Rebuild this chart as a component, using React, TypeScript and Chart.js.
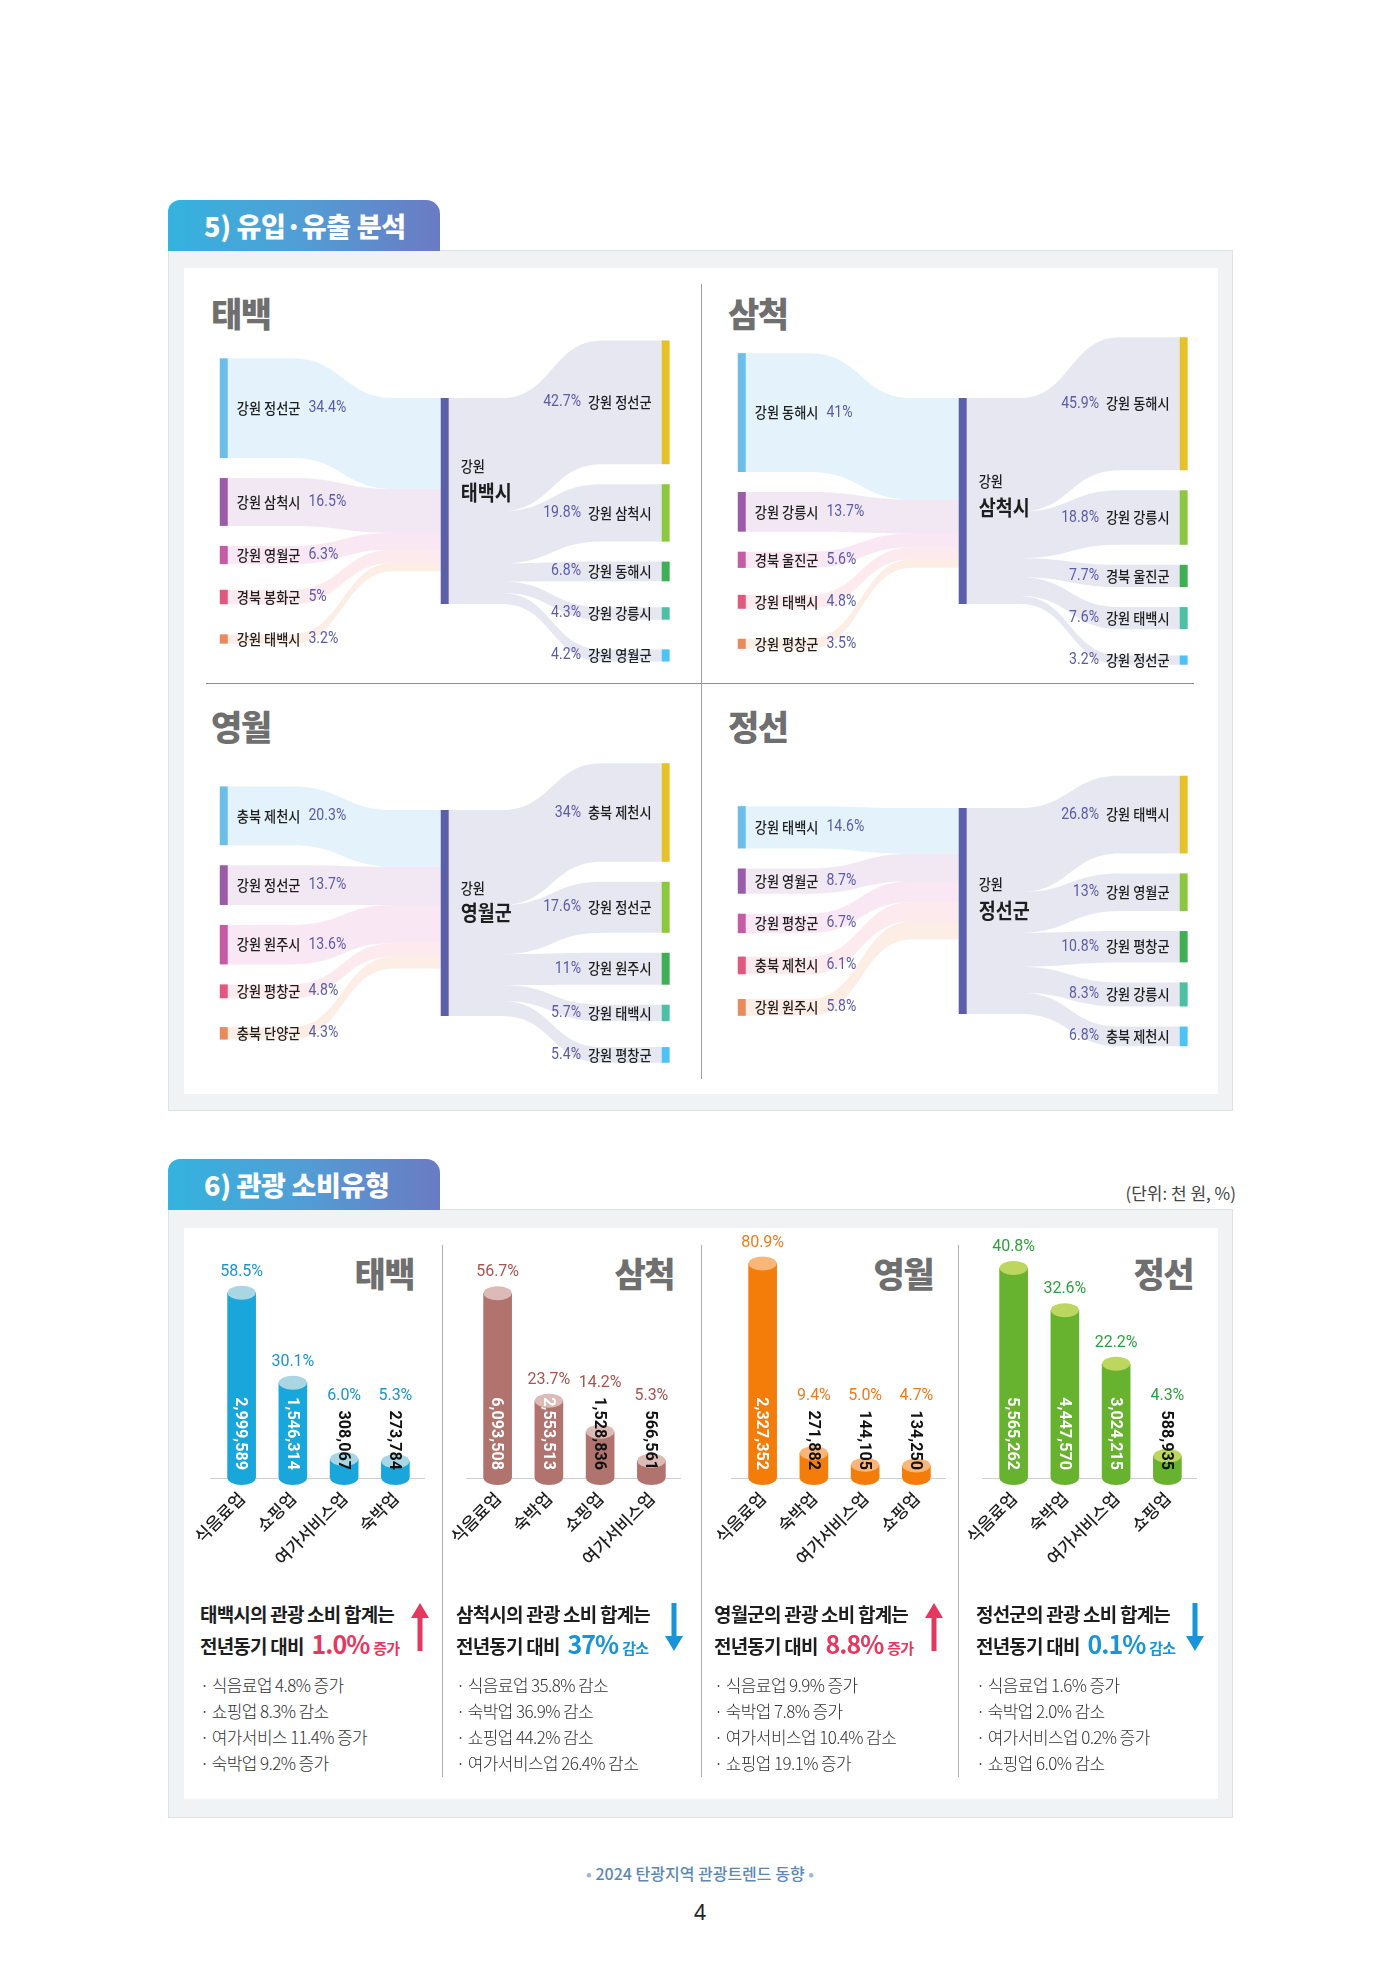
import React, { useEffect, useRef } from 'react';
import { Chart, registerables } from 'chart.js';

Chart.register(...registerables);

const KR = '"Noto Sans CJK KR", "Noto Sans", sans-serif';
const NUM = 'Roboto, "Noto Sans CJK KR", sans-serif';

// ===================== 5) 유입·유출 분석 =====================
const REGION_TITLES = ['태백', '삼척', '영월', '정선'];
const HUB_PROVINCE = '강원';
const HUB_NAMES = ['태백시', '삼척시', '영월군', '정선군'];

const INFLOW_LABELS = [
  ['강원 정선군', '강원 삼척시', '강원 영월군', '경북 봉화군', '강원 태백시'],
  ['강원 동해시', '강원 강릉시', '경북 울진군', '강원 태백시', '강원 평창군'],
  ['충북 제천시', '강원 정선군', '강원 원주시', '강원 평창군', '충북 단양군'],
  ['강원 태백시', '강원 영월군', '강원 평창군', '충북 제천시', '강원 원주시'],
];
const INFLOW_SHARES = [
  [34.4, 16.5, 6.3, 5, 3.2],
  [41, 13.7, 5.6, 4.8, 3.5],
  [20.3, 13.7, 13.6, 4.8, 4.3],
  [14.6, 8.7, 6.7, 6.1, 5.8],
];
const OUTFLOW_LABELS = [
  ['강원 정선군', '강원 삼척시', '강원 동해시', '강원 강릉시', '강원 영월군'],
  ['강원 동해시', '강원 강릉시', '경북 울진군', '강원 태백시', '강원 정선군'],
  ['충북 제천시', '강원 정선군', '강원 원주시', '강원 태백시', '강원 평창군'],
  ['강원 태백시', '강원 영월군', '강원 평창군', '강원 강릉시', '충북 제천시'],
];
const OUTFLOW_SHARES = [
  [42.7, 19.8, 6.8, 4.3, 4.2],
  [45.9, 18.8, 7.7, 7.6, 3.2],
  [34, 17.6, 11, 5.7, 5.4],
  [26.8, 13, 10.8, 8.3, 6.8],
];

// ===================== 6) 관광 소비유형 =====================
const SPEND_CATEGORIES = [
  ['식음료업', '쇼핑업', '여가서비스업', '숙박업'],
  ['식음료업', '숙박업', '쇼핑업', '여가서비스업'],
  ['식음료업', '숙박업', '여가서비스업', '쇼핑업'],
  ['식음료업', '숙박업', '여가서비스업', '쇼핑업'],
];
const SPEND_SHARES = [
  [58.5, 30.1, 6.0, 5.3],
  [56.7, 23.7, 14.2, 5.3],
  [80.9, 9.4, 5.0, 4.7],
  [40.8, 32.6, 22.2, 4.3],
];
const SPEND_AMOUNTS = [
  [2999589, 1546314, 308067, 273784],
  [6093508, 2553513, 1528836, 566561],
  [2327352, 271882, 144105, 134250],
  [5565262, 4447570, 3024215, 588935],
];
const SPEND_AXIS_MAX = [72, 70, 86, 44.3];

const SUMMARY_SUBJECTS = ['태백시', '삼척시', '영월군', '정선군'];
const SUMMARY_CHANGE = ['1.0%', '37%', '8.8%', '0.1%'];
const SUMMARY_DIRECTION = ['증가', '감소', '증가', '감소'];
const SUMMARY_BULLETS = [
  ['식음료업 4.8% 증가', '쇼핑업 8.3% 감소', '여가서비스 11.4% 증가', '숙박업 9.2% 증가'],
  ['식음료업 35.8% 감소', '숙박업 36.9% 감소', '쇼핑업 44.2% 감소', '여가서비스업 26.4% 감소'],
  ['식음료업 9.9% 증가', '숙박업 7.8% 증가', '여가서비스업 10.4% 감소', '쇼핑업 19.1% 증가'],
  ['식음료업 1.6% 증가', '숙박업 2.0% 감소', '여가서비스업 0.2% 증가', '쇼핑업 6.0% 감소'],
];

// ===================== styles / layout =====================
const IN_NODE_COLORS = ['#6cbde8', '#9a5ca8', '#c65ba5', '#e2577e', '#e98a5c'];
const IN_RIBBON_COLORS = [
  'rgba(108,189,232,0.18)',
  'rgba(170,100,180,0.15)',
  'rgba(214,90,170,0.14)',
  'rgba(230,90,130,0.13)',
  'rgba(240,150,100,0.17)',
];
const OUT_NODE_COLORS = ['#e5c22b', '#8dc63f', '#3fae55', '#4dbfa4', '#4ec3f3'];
const OUT_RIBBON_COLOR = 'rgba(91,94,166,0.15)';
const HUB_COLOR = '#5b5ea8';
const PCT_COLOR = '#5a5ca8';

const SK_QUADS = [
  { left: 184, mid: 501, titleX: 211, titleY: 313 },
  { left: 702, mid: 501, titleX: 728, titleY: 313 },
  { left: 184, mid: 913, titleX: 211, titleY: 726 },
  { left: 702, mid: 911, titleX: 728, titleY: 726 },
];
const SK_W = 517;
const SK_H = 400;
const SK_X_MIN = -0.18;
const SK_X_MAX = 2.16;
const SK_Y_HALF = 69;
const SK_NODE_W = 8;
const SK_GAP = 20;
const SK_MIN_SPACING = 42;
const SK_HUB_PX = 206;
const SK_HUB_LABEL_OFFSETS = [
  [-35, -9],
  [-20, 6],
  [-25, -1],
  [-27, -1],
];

const BAR_COLORS = ['#19a6da', '#b0736e', '#f47d0a', '#67b22f'];
const BAR_TOP_COLORS = ['#a9d6e3', '#dcbab6', '#f9b679', '#bcd65f'];
const BAR_LABEL_COLORS = ['#1c93c9', '#a5544f', '#ee7a1c', '#2e9e3e'];
const BAR_AREA_LEFT = [215.5, 471.5, 737, 987.5];
const BAR_TITLE_RIGHT = [414, 674, 933, 1193];
const BAR_AREA_W = 205;
const BAR_AREA_TOP = 1250;
const BAR_BASE = 1478;
const BAR_PAD_L = 60;
const BAR_PAD_R = 30;
const BAR_PAD_T = 24;
const BAR_X_AXIS_H = 100;

const SUMMARY_X = [200, 456, 714, 976];
const ARROW_X = [420, 674, 934, 1195];
const UP_COLOR = '#e6375f';
const DOWN_COLOR = '#1a94d6';

function fmtPct(v: number) {
  return `${v}%`;
}

function drawScaledText(ctx: CanvasRenderingContext2D, text: string, x: number, y: number, align: CanvasTextAlign, sx: number) {
  ctx.save();
  ctx.translate(x, y);
  ctx.scale(sx, 1);
  ctx.textAlign = align;
  ctx.textBaseline = 'middle';
  ctx.fillText(text, 0, 0);
  ctx.restore();
  return ctx.measureText(text).width * sx;
}

function stackColumn(vals: number[], gapV: number, minV: number) {
  const tops: number[] = [];
  let prevBottom = 0;
  let prevCenter = 0;
  vals.forEach((v, i) => {
    let t = 0;
    if (i > 0) t = Math.max(prevBottom + gapV, prevCenter + minV - v / 2);
    tops.push(t);
    prevBottom = t + v;
    prevCenter = t + v / 2;
  });
  const extent = prevBottom;
  return tops.map((t) => t - extent / 2);
}

function ribbon(
  ctx: CanvasRenderingContext2D,
  xa: number, ya1: number, ya2: number,
  xb: number, yb1: number, yb2: number,
  f1: number, f2: number, color: string
) {
  const xs = xa + (xb - xa) * f1;
  const xe = xa + (xb - xa) * f2;
  const xm = (xs + xe) / 2;
  ctx.beginPath();
  ctx.moveTo(xa, ya1);
  ctx.lineTo(xs, ya1);
  ctx.bezierCurveTo(xm, ya1, xm, yb1, xe, yb1);
  ctx.lineTo(xb, yb1);
  ctx.lineTo(xb, yb2);
  ctx.lineTo(xe, yb2);
  ctx.bezierCurveTo(xm, yb2, xm, ya2, xs, ya2);
  ctx.lineTo(xa, ya2);
  ctx.closePath();
  ctx.fillStyle = color;
  ctx.fill();
}

function Sankey({ idx }: { idx: number }) {
  const ref = useRef<HTMLCanvasElement>(null);
  const q = SK_QUADS[idx];
  useEffect(() => {
    const inVals = INFLOW_SHARES[idx];
    const outVals = OUTFLOW_SHARES[idx];
    const inLabels = INFLOW_LABELS[idx];
    const outLabels = OUTFLOW_LABELS[idx];
    const plugin = {
      id: 'sankeyDraw',
      afterDraw(chart: any) {
        const ctx: CanvasRenderingContext2D = chart.ctx;
        const xs = chart.scales.x;
        const ys = chart.scales.y;
        const py = (v: number) => ys.getPixelForValue(v);
        const k = Math.abs(py(1) - py(0));
        const gapV = SK_GAP / k;
        const minV = SK_MIN_SPACING / k;
        const hubV = SK_HUB_PX / k;
        const inTops = stackColumn(inVals, gapV, minV);
        const outTops = stackColumn(outVals, gapV, minV);
        const xL = xs.getPixelForValue(0);
        const xH = xs.getPixelForValue(1);
        const xR = xs.getPixelForValue(2);
        const hw = SK_NODE_W / 2;
        const sumIn = inVals.reduce((a, b) => a + b, 0);
        const sumOut = outVals.reduce((a, b) => a + b, 0);
        const s = hubV / Math.max(sumIn, sumOut);
        const hubTop = -hubV / 2;

        ctx.save();
        let acc = hubTop;
        const inHub: number[] = [];
        inVals.forEach((v) => { inHub.push(acc); acc += v * s; });
        for (let i = inVals.length - 1; i >= 0; i--) {
          const v = inVals[i];
          ribbon(ctx, xL + hw, py(inTops[i]), py(inTops[i] + v), xH - hw, py(inHub[i]), py(inHub[i] + v * s), 0.3, 0.78, IN_RIBBON_COLORS[i]);
        }
        acc = hubTop;
        outVals.forEach((v, i) => {
          ribbon(ctx, xH + hw, py(acc), py(acc + v * s), xR - hw, py(outTops[i]), py(outTops[i] + v), 0.25, 0.72, OUT_RIBBON_COLOR);
          acc += v * s;
        });
        inVals.forEach((v, i) => {
          ctx.fillStyle = IN_NODE_COLORS[i];
          ctx.fillRect(xL - hw, py(inTops[i]), SK_NODE_W, py(inTops[i] + v) - py(inTops[i]));
        });
        outVals.forEach((v, i) => {
          ctx.fillStyle = OUT_NODE_COLORS[i];
          ctx.fillRect(xR - hw, py(outTops[i]), SK_NODE_W, py(outTops[i] + v) - py(outTops[i]));
        });
        ctx.fillStyle = HUB_COLOR;
        ctx.fillRect(xH - hw, py(hubTop), SK_NODE_W, py(-hubTop) - py(hubTop));

        inVals.forEach((v, i) => {
          const yc = py(inTops[i] + v / 2);
          ctx.fillStyle = '#1e1e1e';
          ctx.font = `500 15px ${KR}`;
          const w = drawScaledText(ctx, inLabels[i], xL + hw + 9, yc, 'left', 0.88);
          ctx.fillStyle = PCT_COLOR;
          ctx.font = `16px ${NUM}`;
          drawScaledText(ctx, fmtPct(v), xL + hw + 9 + w + 8, yc, 'left', 0.88);
        });
        outVals.forEach((v, i) => {
          const yc = py(outTops[i] + v / 2);
          ctx.fillStyle = '#1e1e1e';
          ctx.font = `500 15px ${KR}`;
          const w = drawScaledText(ctx, outLabels[i], xR - hw - 10, yc, 'right', 0.88);
          ctx.fillStyle = PCT_COLOR;
          ctx.font = `16px ${NUM}`;
          drawScaledText(ctx, fmtPct(v), xR - hw - 10 - w - 7, yc, 'right', 0.88);
        });
        const hubMid = py(0);
        const off = SK_HUB_LABEL_OFFSETS[idx];
        ctx.fillStyle = '#1e1e1e';
        ctx.font = `500 15px ${KR}`;
        drawScaledText(ctx, HUB_PROVINCE, xH + hw + 12, hubMid + off[0], 'left', 0.88);
        ctx.font = `bold 21px ${KR}`;
        drawScaledText(ctx, HUB_NAMES[idx], xH + hw + 12, hubMid + off[1], 'left', 0.88);
        ctx.restore();
      },
    };
    const chart = new Chart(ref.current as HTMLCanvasElement, {
      type: 'scatter',
      data: { datasets: [{ data: [] }] },
      options: {
        animation: false,
        responsive: false,
        maintainAspectRatio: false,
        layout: { padding: 0 },
        plugins: { legend: { display: false }, tooltip: { enabled: false } },
        scales: {
          x: { type: 'linear', display: false, min: SK_X_MIN, max: SK_X_MAX },
          y: { type: 'linear', display: false, min: -SK_Y_HALF, max: SK_Y_HALF, reverse: true },
        },
      },
      plugins: [plugin],
    } as any);
    return () => chart.destroy();
  }, [idx]);
  return (
    <canvas
      ref={ref}
      width={SK_W}
      height={SK_H}
      style={{ position: 'absolute', left: q.left, top: q.mid - SK_H / 2, width: SK_W, height: SK_H, display: 'block' }}
    />
  );
}

function BarPanel({ idx }: { idx: number }) {
  const ref = useRef<HTMLCanvasElement>(null);
  const areaH = BAR_BASE - BAR_AREA_TOP;
  const cw = BAR_PAD_L + BAR_AREA_W + BAR_PAD_R;
  const ch = BAR_PAD_T + areaH + BAR_X_AXIS_H;
  useEffect(() => {
    const color = BAR_COLORS[idx];
    const plugin = {
      id: 'cylinders',
      beforeDatasetsDraw(chart: any) {
        const ctx: CanvasRenderingContext2D = chart.ctx;
        const { left, right, bottom } = chart.chartArea;
        ctx.save();
        ctx.strokeStyle = '#cfcfcf';
        ctx.lineWidth = 1;
        ctx.beginPath();
        ctx.moveTo(left - 6, bottom + 0.5);
        ctx.lineTo(right + 4, bottom + 0.5);
        ctx.stroke();
        ctx.restore();
      },
      afterDatasetsDraw(chart: any) {
        const ctx: CanvasRenderingContext2D = chart.ctx;
        const meta = chart.getDatasetMeta(0);
        ctx.save();
        meta.data.forEach((bar: any, i: number) => {
          const p = bar.getProps(['x', 'y', 'base', 'width'], true);
          const rx = p.width / 2;
          const ry = 7;
          ctx.fillStyle = color;
          ctx.beginPath();
          ctx.ellipse(p.x, p.base, rx, ry, 0, 0, Math.PI);
          ctx.fill();
          ctx.fillStyle = BAR_TOP_COLORS[idx];
          ctx.beginPath();
          ctx.ellipse(p.x, p.y, rx, ry, 0, 0, Math.PI * 2);
          ctx.fill();

          const str = SPEND_AMOUNTS[idx][i].toLocaleString('en-US');
          ctx.font = `bold 17px ${NUM}`;
          const tw = ctx.measureText(str).width * 0.95;
          const textEnd = p.base - 8;
          const textStart = textEnd - tw;
          const inside = p.y - ry < textStart - 2;
          ctx.save();
          ctx.translate(p.x, textEnd);
          ctx.rotate(Math.PI / 2);
          ctx.scale(0.95, 1);
          ctx.textAlign = 'right';
          ctx.textBaseline = 'middle';
          ctx.fillStyle = inside ? '#ffffff' : '#111111';
          ctx.fillText(str, 0, 1);
          ctx.restore();

          const labBottom = Math.min(p.y - ry, inside ? Infinity : textStart) - 6;
          ctx.font = `16px ${NUM}`;
          ctx.fillStyle = BAR_LABEL_COLORS[idx];
          ctx.textAlign = 'center';
          ctx.textBaseline = 'bottom';
          ctx.fillText(`${SPEND_SHARES[idx][i].toFixed(1)}%`, p.x, labBottom);
        });
        ctx.restore();
      },
    };
    const chart = new Chart(ref.current as HTMLCanvasElement, {
      type: 'bar',
      data: {
        labels: SPEND_CATEGORIES[idx],
        datasets: [
          {
            data: SPEND_SHARES[idx],
            backgroundColor: color,
            borderWidth: 0,
            barThickness: 28,
          },
        ],
      },
      options: {
        animation: false,
        responsive: false,
        maintainAspectRatio: false,
        layout: { padding: { left: BAR_PAD_L, right: BAR_PAD_R, top: BAR_PAD_T, bottom: 0 } },
        plugins: { legend: { display: false }, tooltip: { enabled: false } },
        scales: {
          x: {
            grid: { display: false, drawTicks: false },
            border: { display: false },
            ticks: {
              color: '#1e1e1e',
              font: { family: KR, size: 17, weight: '500' },
              minRotation: 45,
              maxRotation: 45,
              padding: 10,
            },
            afterFit: (s: any) => {
              s.height = BAR_X_AXIS_H;
            },
          },
          y: { display: false, min: 0, max: SPEND_AXIS_MAX[idx] },
        },
      },
      plugins: [plugin],
    } as any);
    return () => chart.destroy();
  }, [idx]);
  return (
    <canvas
      ref={ref}
      width={cw}
      height={ch}
      style={{
        position: 'absolute',
        left: BAR_AREA_LEFT[idx] - BAR_PAD_L,
        top: BAR_AREA_TOP - BAR_PAD_T,
        width: cw,
        height: ch,
        display: 'block',
      }}
    />
  );
}

function SectionTab({ top, text }: { top: number; text: string }) {
  return (
    <div
      style={{
        position: 'absolute',
        left: 168,
        top,
        width: 272,
        height: 51,
        borderRadius: '12px 14px 0 0',
        background: 'linear-gradient(90deg, #33b3de 0%, #4fa0d6 45%, #6b7bc3 100%)',
        color: '#fff',
        fontSize: 27,
        fontWeight: 900,
        lineHeight: '51px',
        paddingLeft: 36,
        boxSizing: 'border-box',
        letterSpacing: -0.3,
        whiteSpace: 'nowrap',
      }}
    >
      {text}
    </div>
  );
}

function Box({ top, height, innerTop, innerHeight }: { top: number; height: number; innerTop: number; innerHeight: number }) {
  return (
    <>
      <div
        style={{
          position: 'absolute',
          left: 168,
          top,
          width: 1065,
          height,
          background: '#f1f2f4',
          border: '1px solid #dfe1e4',
          boxSizing: 'border-box',
        }}
      />
      <div style={{ position: 'absolute', left: 184, top: innerTop, width: 1034, height: innerHeight, background: '#fff' }} />
    </>
  );
}

function Arrow({ cx, up }: { cx: number; up: boolean }) {
  const color = up ? UP_COLOR : DOWN_COLOR;
  return (
    <svg width={18} height={48} style={{ position: 'absolute', left: cx - 9, top: 1603 }}>
      {up ? (
        <>
          <polygon points="0,15 9,0 18,15" fill={color} />
          <rect x={6.5} y={13} width={5} height={35} fill={color} />
        </>
      ) : (
        <>
          <polygon points="0,33 9,48 18,33" fill={color} />
          <rect x={6.5} y={0} width={5} height={35} fill={color} />
        </>
      )}
    </svg>
  );
}

const titleStyle = {
  position: 'absolute' as const,
  lineHeight: '46px',
  fontSize: 34,
  fontWeight: 900,
  color: '#6f6f6f',
  letterSpacing: -1.5,
  whiteSpace: 'nowrap' as const,
};

export default function App() {
  useEffect(() => {
    document.body.style.margin = '0';
  }, []);
  return (
    <div
      style={{
        position: 'absolute',
        left: 0,
        top: 0,
        width: 1400,
        height: 1980,
        background: '#fff',
        fontFamily: KR,
        overflow: 'hidden',
      }}
    >
      {/* ===== section 5 ===== */}
      <Box top={250} height={861} innerTop={268} innerHeight={826} />
      <SectionTab top={200} text="5) 유입·유출 분석" />
      <div style={{ position: 'absolute', left: 701, top: 284, width: 1, height: 795, background: '#a0a0a0' }} />
      <div style={{ position: 'absolute', left: 206, top: 683, width: 988, height: 1, background: '#8f8f8f' }} />
      {SK_QUADS.map((q, i) => (
        <div key={`t${i}`} style={{ ...titleStyle, left: q.titleX, top: q.titleY - 23 }}>
          {REGION_TITLES[i]}
        </div>
      ))}
      {SK_QUADS.map((_, i) => (
        <Sankey key={`s${i}`} idx={i} />
      ))}

      {/* ===== section 6 ===== */}
      <Box top={1209} height={609} innerTop={1228} innerHeight={571} />
      <SectionTab top={1159} text="6) 관광 소비유형" />
      <div
        style={{
          position: 'absolute',
          left: 1036,
          width: 200,
          top: 1180,
          lineHeight: '26px',
          fontSize: 17,
          color: '#444',
          textAlign: 'right',
          whiteSpace: 'nowrap',
        }}
      >
        (단위: 천 원, %)
      </div>
      {[442, 701, 958].map((x) => (
        <div key={`d${x}`} style={{ position: 'absolute', left: x, top: 1245, width: 1, height: 532, background: '#b0b0b0' }} />
      ))}
      {BAR_TITLE_RIGHT.map((r, i) => (
        <div key={`bt${i}`} style={{ ...titleStyle, left: r - 200, width: 200, textAlign: 'right', top: 1273 - 23 }}>
          {REGION_TITLES[i]}
        </div>
      ))}
      {SPEND_SHARES.map((_, i) => (
        <BarPanel key={`b${i}`} idx={i} />
      ))}

      {SUMMARY_SUBJECTS.map((subj, i) => {
        const up = SUMMARY_DIRECTION[i] === '증가';
        const color = up ? UP_COLOR : DOWN_COLOR;
        return (
          <React.Fragment key={`sum${i}`}>
            <div
              style={{
                position: 'absolute',
                left: SUMMARY_X[i],
                top: 1614 - 14,
                lineHeight: '28px',
                fontSize: 19,
                fontWeight: 700,
                color: '#1e1e1e',
                letterSpacing: -0.8,
                whiteSpace: 'nowrap',
              }}
            >
              {`${subj}의 관광 소비 합계는`}
            </div>
            <div
              style={{
                position: 'absolute',
                left: SUMMARY_X[i],
                top: 1643 - 16,
                lineHeight: '32px',
                fontSize: 19,
                fontWeight: 700,
                color: '#1e1e1e',
                letterSpacing: -0.8,
                whiteSpace: 'nowrap',
              }}
            >
              {'전년동기 대비'}
              <span style={{ fontSize: 25, color, letterSpacing: -1, marginLeft: 8 }}>{SUMMARY_CHANGE[i]}</span>
              <span style={{ fontSize: 15, color, marginLeft: 4 }}>{SUMMARY_DIRECTION[i]}</span>
            </div>
            <Arrow cx={ARROW_X[i]} up={up} />
            {SUMMARY_BULLETS[i].map((b, j) => (
              <div
                key={`bl${i}-${j}`}
                style={{
                  position: 'absolute',
                  left: SUMMARY_X[i],
                  top: 1672 + j * 26,
                  lineHeight: '26px',
                  fontSize: 17,
                  fontWeight: 300,
                  color: '#333',
                  letterSpacing: -0.6,
                  whiteSpace: 'nowrap',
                }}
              >
                {`· ${b}`}
              </div>
            ))}
          </React.Fragment>
        );
      })}

      {/* ===== footer ===== */}
      <div
        style={{
          position: 'absolute',
          left: 0,
          width: 1400,
          top: 1873 - 12,
          lineHeight: '24px',
          textAlign: 'center',
          fontSize: 16,
          fontWeight: 500,
          color: '#5b88b5',
          whiteSpace: 'nowrap',
        }}
      >
        <span style={{ color: '#9bb8d4' }}>•</span> 2024 탄광지역 관광트렌드 동향 <span style={{ color: '#9bb8d4' }}>•</span>
      </div>
      <div
        style={{
          position: 'absolute',
          left: 0,
          width: 1400,
          top: 1912 - 14,
          lineHeight: '28px',
          textAlign: 'center',
          fontSize: 21,
          color: '#222',
          fontFamily: '"Noto Sans", sans-serif',
        }}
      >
        4
      </div>
    </div>
  );
}
